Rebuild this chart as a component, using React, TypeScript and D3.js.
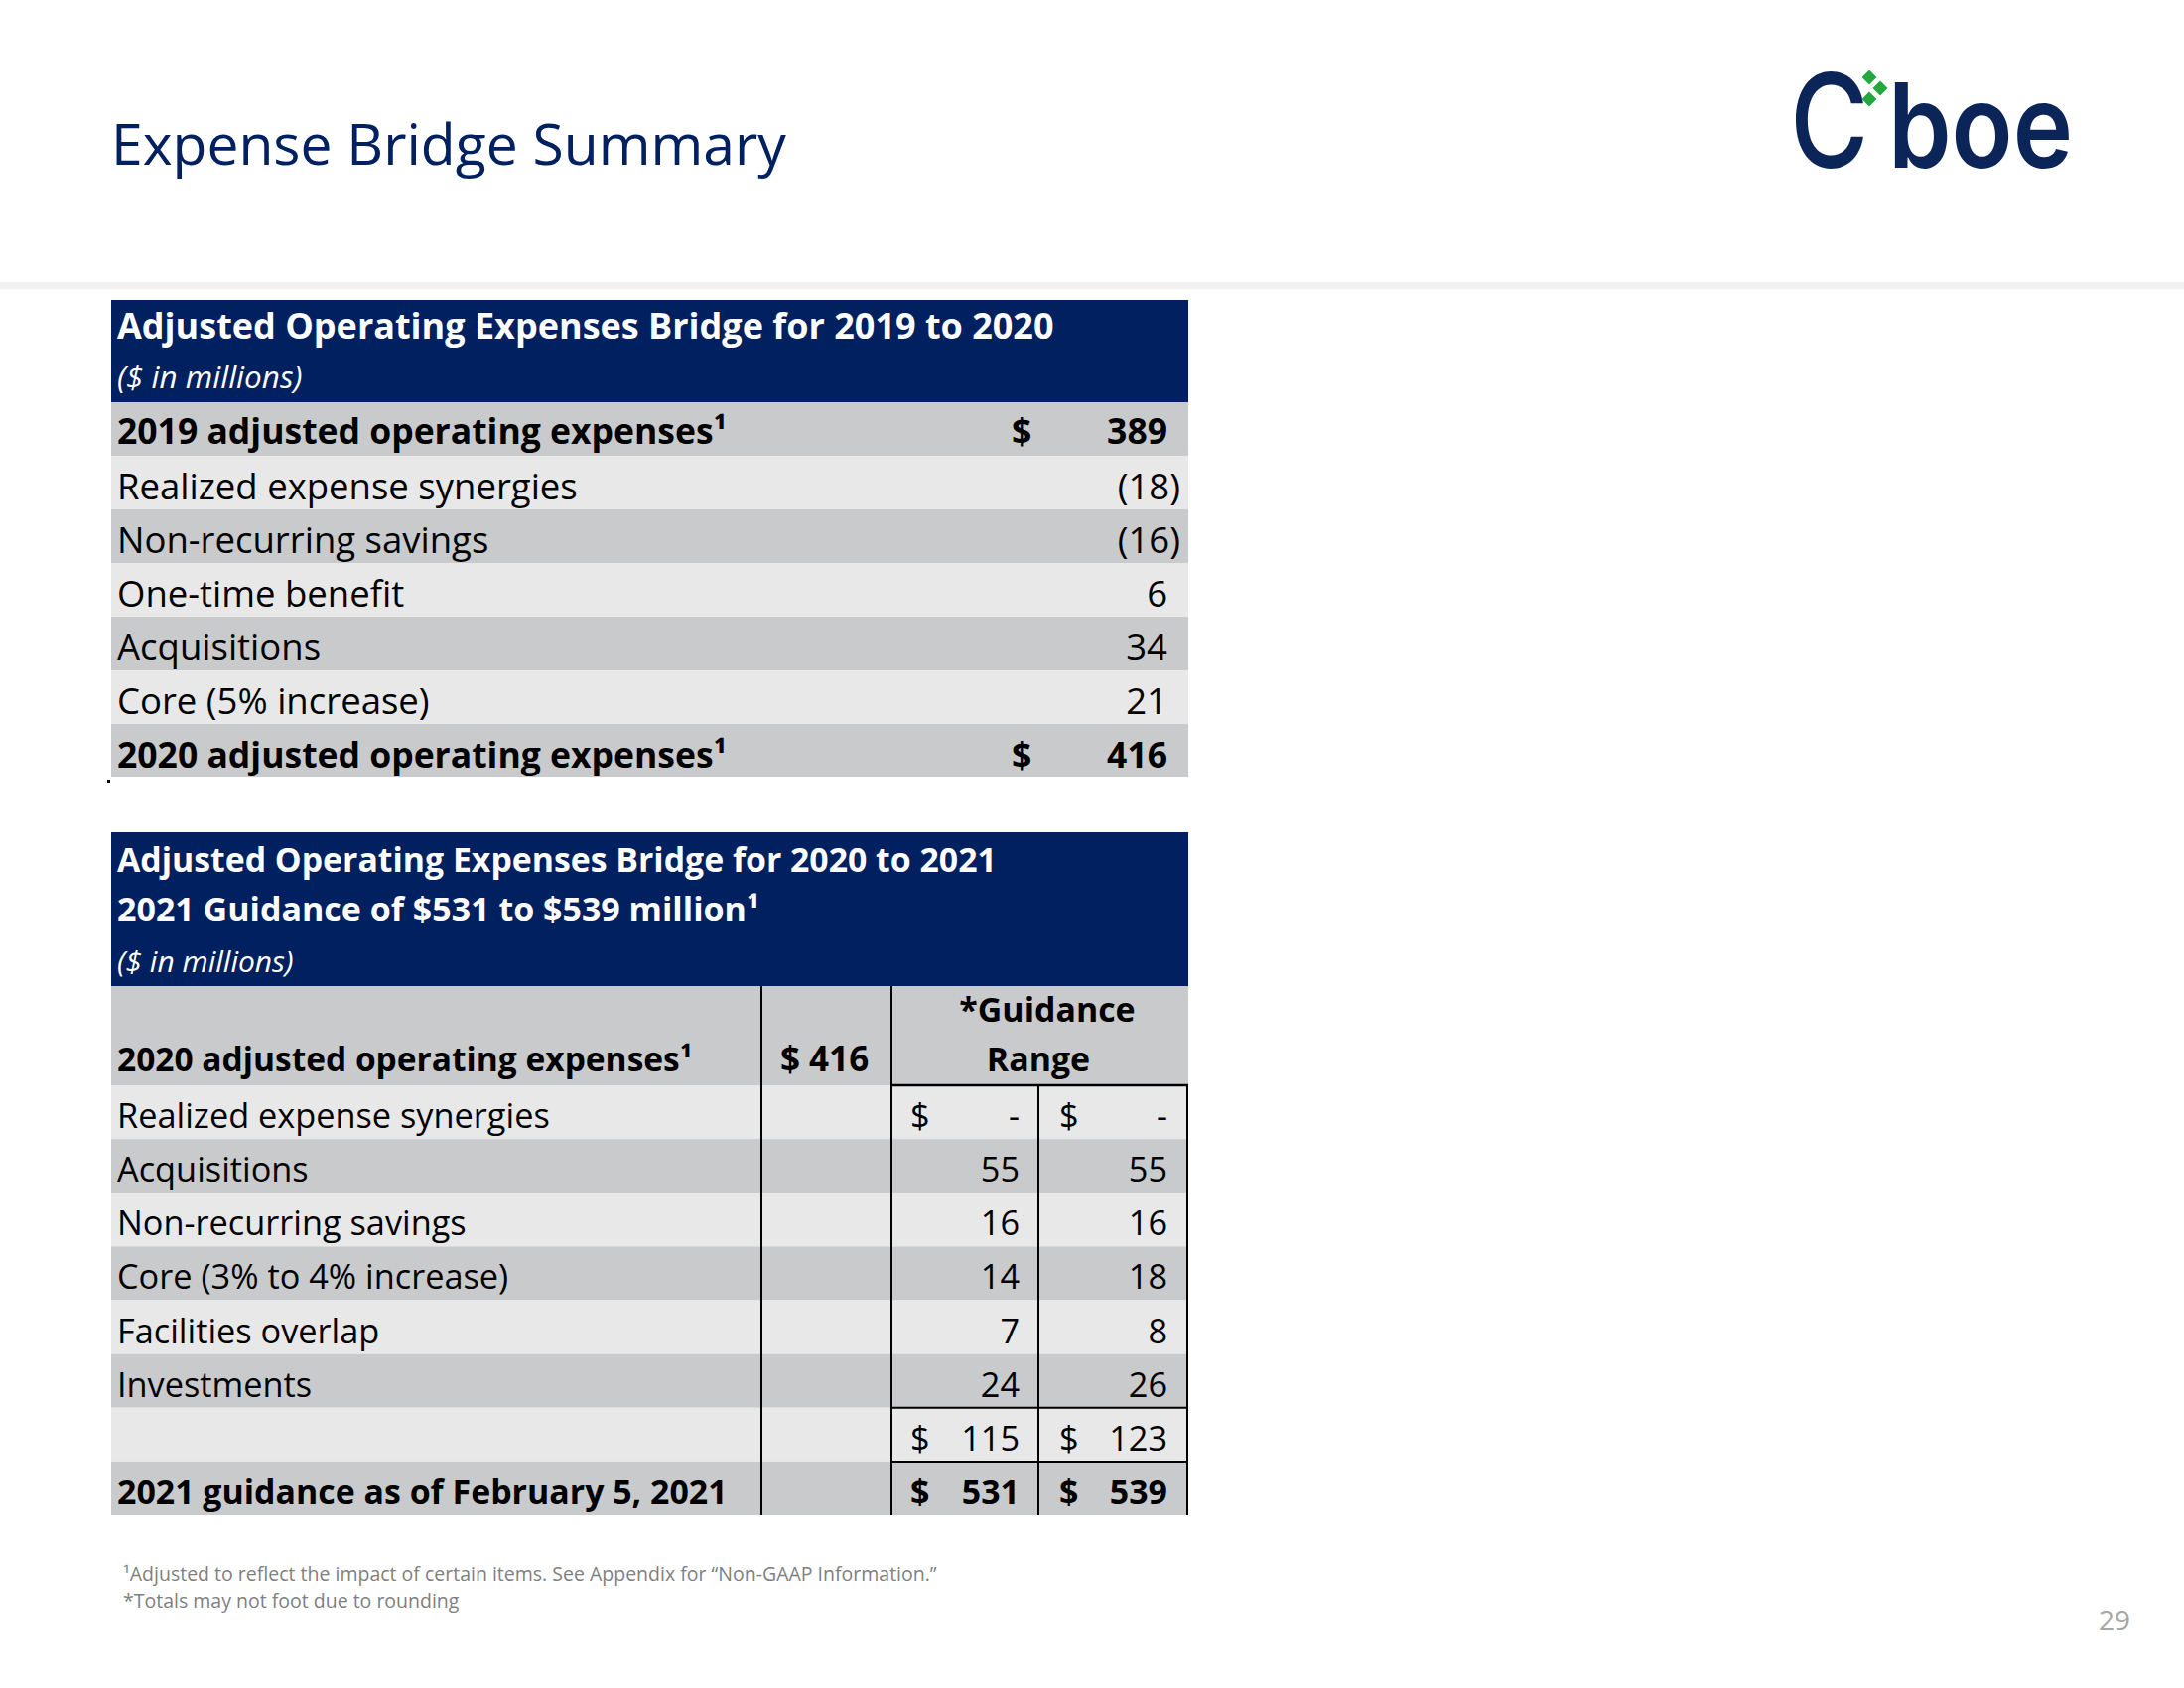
import React from "react";
import * as d3 from "d3";

// ---------- data ----------
const title = "Expense Bridge Summary";

const t1Title = "Adjusted Operating Expenses Bridge for 2019 to 2020";
const t1Unit = "($ in millions)";
const t1Labels = [
  "2019 adjusted operating expenses¹",
  "Realized expense synergies",
  "Non-recurring savings",
  "One-time benefit",
  "Acquisitions",
  "Core (5% increase)",
  "2020 adjusted operating expenses¹",
];
const t1Values = [389, -18, -16, 6, 34, 21, 416];
const t1Bold = [true, false, false, false, false, false, true];
const t1Dollar = [true, false, false, false, false, false, true];

const t2Title1 = "Adjusted Operating Expenses Bridge for 2020 to 2021";
const t2Title2 = "2021 Guidance of $531 to $539 million¹";
const t2Unit = "($ in millions)";
const t2HeadLabel = "2020 adjusted operating expenses¹";
const t2HeadValue = "$ 416";
const t2RangeHead = ["*Guidance", "Range"];
const t2Labels = [
  "Realized expense synergies",
  "Acquisitions",
  "Non-recurring savings",
  "Core (3% to 4% increase)",
  "Facilities overlap",
  "Investments",
  "",
  "2021 guidance as of February 5, 2021",
];
const t2Low = [0, 55, 16, 14, 7, 24, 115, 531];
const t2High = [0, 55, 16, 18, 8, 26, 123, 539];
const t2Bold = [false, false, false, false, false, false, false, true];
const t2Dollar = [true, false, false, false, false, false, true, true];

const footnotes = [
  "¹Adjusted to reflect the impact of certain items. See Appendix for “Non-GAAP Information.”",
  "*Totals may not foot due to rounding",
];
const pageNumber = "29";

// ---------- style ----------
const NAVY = "#002060";
const DARK = "#c9cacc";
const LIGHT = "#e8e8e9";
const FONT = "'Open Sans', 'Noto Sans', sans-serif";

const T1_REG = 36.5;
const T1_BOLD = 35.5;
const T2_REG = 34.3;
const T2_BOLD = 33.9;

const fmt = (v: number) => (v === 0 ? "-" : v < 0 ? `(${-v})` : `${v}`);

export default function App() {
  const W = 2200;
  const H = 1700;
  const x0 = 112;
  const x1 = 1197;

  const y1 = d3
    .scaleBand<number>()
    .domain(d3.range(t1Labels.length))
    .range([405, 783])
    .padding(0);
  const y2 = d3
    .scaleBand<number>()
    .domain(d3.range(t2Labels.length))
    .range([1093, 1526])
    .padding(0);

  const cols = [x0, 767, 898, 1046, x1];

  return (
    <svg
      width={W}
      height={H}
      viewBox={`0 0 ${W} ${H}`}
      style={{ position: "absolute", left: 0, top: 0, background: "#fff" }}
      fontFamily={FONT}
    >
      <rect x={0} y={0} width={W} height={H} fill="#fff" />

      {/* title */}
      <text x={112} y={166} fontSize={57} fill={NAVY}>
        {title}
      </text>

      {/* logo */}
      <g fill="#0b2559">
        <text
          x={0}
          y={0}
          fontSize={132}
          fontWeight={500}
          fontFamily="Inter, 'Open Sans', sans-serif"
          transform="translate(1803,169) scale(0.82,1)"
        >
          C
        </text>
        <text
          x={1902}
          y={169}
          fontSize={118}
          fontWeight={600}
          fontFamily="Inter, 'Open Sans', sans-serif"
          textLength={186}
          lengthAdjust="spacingAndGlyphs"
        >
          boe
        </text>
      </g>
      <g fill="#22a83c">
        {[
          [1883, 78],
          [1894, 89],
          [1883, 100],
        ].map(([cx, cy], i) => (
          <path
            key={i}
            d={`M${cx},${cy - 7.5}L${cx + 7.5},${cy}L${cx},${cy + 7.5}L${cx - 7.5},${cy}Z`}
          />
        ))}
      </g>

      {/* separator */}
      <rect x={0} y={284} width={W} height={7} fill="#f0f0f0" />

      {/* ---------- table 1 ---------- */}
      <rect x={x0} y={302} width={x1 - x0} height={103} fill={NAVY} />
      <text x={118} y={341} fontSize={36} fontWeight={700} fill="#fff">
        {t1Title}
      </text>
      <text x={118} y={391} fontSize={31.5} fontStyle="italic" fill="#fff">
        {t1Unit}
      </text>
      {t1Labels.map((lab, i) => {
        const top = y1(i)!;
        const base = top + (i === 0 ? 42 : 44);
        const v = t1Values[i];
        const fs = t1Bold[i] ? T1_BOLD : T1_REG;
        const fw = t1Bold[i] ? 700 : 400;
        return (
          <g key={i}>
            <rect
              x={x0}
              y={top}
              width={x1 - x0}
              height={y1.bandwidth()}
              fill={i % 2 === 0 ? DARK : LIGHT}
            />
            <text x={118} y={base} fontSize={fs} fontWeight={fw} fill="#000">
              {lab}
            </text>
            {t1Dollar[i] && (
              <text x={1019} y={base} fontSize={fs} fontWeight={fw} fill="#000">
                $
              </text>
            )}
            <text
              x={v < 0 ? 1189 : 1176}
              y={base}
              fontSize={fs}
              fontWeight={fw}
              textAnchor="end"
              fill="#000"
            >
              {fmt(v)}
            </text>
          </g>
        );
      })}
      <rect x={108} y={786} width={3} height={3} fill="#000" />

      {/* ---------- table 2 ---------- */}
      <rect x={x0} y={838} width={x1 - x0} height={155} fill={NAVY} />
      <text x={118} y={878} fontSize={33.8} fontWeight={700} fill="#fff">
        {t2Title1}
      </text>
      <text x={118} y={928} fontSize={34} fontWeight={700} fill="#fff">
        {t2Title2}
      </text>
      <text x={118} y={979} fontSize={30} fontStyle="italic" fill="#fff">
        {t2Unit}
      </text>

      {/* header gray row */}
      <rect x={x0} y={993} width={x1 - x0} height={100} fill={DARK} />
      <text x={118} y={1079} fontSize={33.5} fontWeight={700} fill="#000">
        {t2HeadLabel}
      </text>
      <text x={786} y={1079} fontSize={35} fontWeight={700} fill="#000">
        {t2HeadValue}
      </text>
      <text
        x={1055}
        y={1029}
        fontSize={T2_BOLD}
        fontWeight={700}
        textAnchor="middle"
        fill="#000"
      >
        {t2RangeHead[0]}
      </text>
      <text
        x={1046}
        y={1079}
        fontSize={T2_BOLD}
        fontWeight={700}
        textAnchor="middle"
        fill="#000"
      >
        {t2RangeHead[1]}
      </text>

      {t2Labels.map((lab, i) => {
        const top = y2(i)!;
        const base = top + 43;
        const w = t2Bold[i] ? 700 : 400;
        const fs = t2Bold[i] ? T2_BOLD : T2_REG;
        return (
          <g key={i}>
            <rect
              x={x0}
              y={top}
              width={x1 - x0}
              height={y2.bandwidth()}
              fill={i % 2 === 0 ? LIGHT : DARK}
            />
            <text x={118} y={base} fontSize={fs} fontWeight={w} fill="#000">
              {lab}
            </text>
            {t2Dollar[i] && (
              <>
                <text x={917} y={base} fontSize={fs} fontWeight={w} fill="#000">
                  $
                </text>
                <text x={1067} y={base} fontSize={fs} fontWeight={w} fill="#000">
                  $
                </text>
              </>
            )}
            <text
              x={1027}
              y={base}
              fontSize={fs}
              fontWeight={w}
              textAnchor="end"
              fill="#000"
            >
              {fmt(t2Low[i])}
            </text>
            <text
              x={1176}
              y={base}
              fontSize={fs}
              fontWeight={w}
              textAnchor="end"
              fill="#000"
            >
              {fmt(t2High[i])}
            </text>
          </g>
        );
      })}

      {/* grid lines */}
      <g stroke="#000" strokeWidth={2}>
        <line x1={cols[1]} x2={cols[1]} y1={993} y2={1526} />
        <line x1={cols[2]} x2={cols[2]} y1={993} y2={1526} />
        <line x1={cols[3]} x2={cols[3]} y1={1093} y2={1526} />
        <line x1={cols[4] - 1} x2={cols[4] - 1} y1={1093} y2={1526} />
        <line x1={cols[2]} x2={cols[4]} y1={1093} y2={1093} strokeWidth={2.5} />
        <line x1={cols[2]} x2={cols[4]} y1={y2(6)!} y2={y2(6)!} />
        <line x1={cols[2]} x2={cols[4]} y1={y2(7)!} y2={y2(7)!} />
      </g>

      {/* footnotes */}
      {footnotes.map((f, i) => (
        <text key={i} x={124} y={1592 + i * 27} fontSize={19.5} fill="#7f7f7f">
          {f}
        </text>
      ))}
      <text x={2146} y={1642} fontSize={28} fill="#a6a6a6" textAnchor="end">
        {pageNumber}
      </text>
    </svg>
  );
}
